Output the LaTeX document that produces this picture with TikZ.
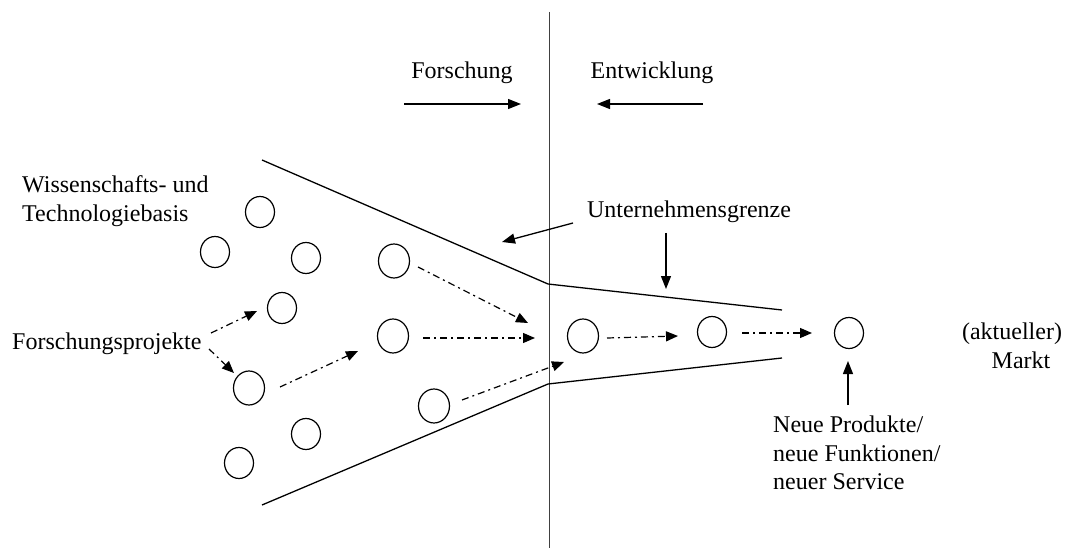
\documentclass[tikz,border=0pt]{standalone}
\usepackage{fontspec}
\setmainfont{Liberation Serif}
\usetikzlibrary{shapes.geometric,arrows.meta}
\begin{document}
\begin{tikzpicture}[x=1pt,y=-1pt,
  proj/.style={draw,ellipse,line width=1.2pt,minimum width=31pt,minimum height=34pt,inner sep=0pt},
  small/.style={draw,ellipse,line width=1.2pt,minimum width=29pt,minimum height=31pt,inner sep=0pt},
  lbl/.style={font=\fontsize{24}{28.5}\selectfont,inner sep=0pt},
  bound/.style={line width=1.3pt},
  solidarrow/.style={line width=1.3pt,-{Triangle[length=13pt,width=10pt]}},
  flow/.style={line width=1.2pt,dash pattern=on 7pt off 4pt on 2pt off 4pt,-{Triangle[length=12pt,width=10pt]}}
]
\useasboundingbox (0,0) rectangle (1071,548);
% vertical divider
\coordinate (vtop) at (549,12);
\coordinate (vbot) at (549,548);
\draw[line width=1pt,black!75] (vtop) -- (vbot);
% titles
\node[lbl] (fo) at (462,73) {Forschung};
\node[lbl] (en) at (652,73) {Entwicklung};
\coordinate (foa) at (404,104); \coordinate (fob) at (521,104);
\coordinate (ena) at (703,104); \coordinate (enb) at (597,104);
\draw[solidarrow] (foa) -- (fob);
\draw[solidarrow] (ena) -- (enb);
% funnel
\coordinate (u1) at (262,160); \coordinate (u2) at (548,284); \coordinate (u3) at (782,310);
\coordinate (l1) at (262,505); \coordinate (l2) at (548,384); \coordinate (l3) at (782,358);
\draw[bound] (u1) -- (u2) -- (u3);
\draw[bound] (l1) -- (l2) -- (l3);
% labels
\node[lbl,anchor=west,align=left] (wtb) at (22,201) {Wissenschafts- und\\Technologiebasis};
\node[lbl,anchor=west] (fp) at (12,344) {Forschungsprojekte};
\node[lbl] (ug) at (689,212) {Unternehmensgrenze};
\node[lbl,align=center] (mk) at (1012,346) {(aktueller)\\\hspace*{18pt}Markt};
\node[lbl,anchor=north west,align=left] (np) at (773,416) {Neue Produkte/\\neue Funktionen/\\neuer Service};
% circles
\node[small] (a1) at (260,212) {};
\node[small] (a2) at (215,252) {};
\node[small] (a3) at (306,258) {};
\node[small] (a4) at (282,308) {};
\node[proj] (a5) at (249,388) {};
\node[small] (a6) at (306,434) {};
\node[small] (a7) at (239,463) {};
\node[proj] (b1) at (394,261) {};
\node[proj] (b2) at (393,336) {};
\node[proj] (b3) at (434,406) {};
\node[proj] (c1) at (583,336) {};
\node[small] (c2) at (712,332) {};
\node[small] (m) at (849,333) {};
% dash-dot flows
\coordinate (f1s) at (211,333); \coordinate (f1e) at (257,311);
\coordinate (f2s) at (209,349); \coordinate (f2e) at (234,373);
\coordinate (f3s) at (280,387); \coordinate (f3e) at (358,351);
\coordinate (g1s) at (418,267); \coordinate (g1e) at (528,323);
\coordinate (g2s) at (423,338); \coordinate (g2e) at (535,338);
\coordinate (g3s) at (462,400); \coordinate (g3e) at (564,362);
\coordinate (h1s) at (607,338); \coordinate (h1e) at (678,336);
\coordinate (h2s) at (742,333); \coordinate (h2e) at (812,333);
\draw[flow] (f1s) -- (f1e);
\draw[flow] (f2s) -- (f2e);
\draw[flow] (f3s) -- (f3e);
\draw[flow] (g1s) -- (g1e);
\draw[flow] (g2s) -- (g2e);
\draw[flow] (g3s) -- (g3e);
\draw[flow] (h1s) -- (h1e);
\draw[flow] (h2s) -- (h2e);
% Unternehmensgrenze arrows
\coordinate (ua) at (573,223); \coordinate (ub) at (502,242);
\coordinate (da) at (666,233); \coordinate (db) at (666,289);
\draw[solidarrow] (ua) -- (ub);
\draw[solidarrow] (da) -- (db);
% market arrow
\coordinate (ma) at (848,405); \coordinate (mb) at (848,361);
\draw[solidarrow] (ma) -- (mb);
\end{tikzpicture}
\end{document}
